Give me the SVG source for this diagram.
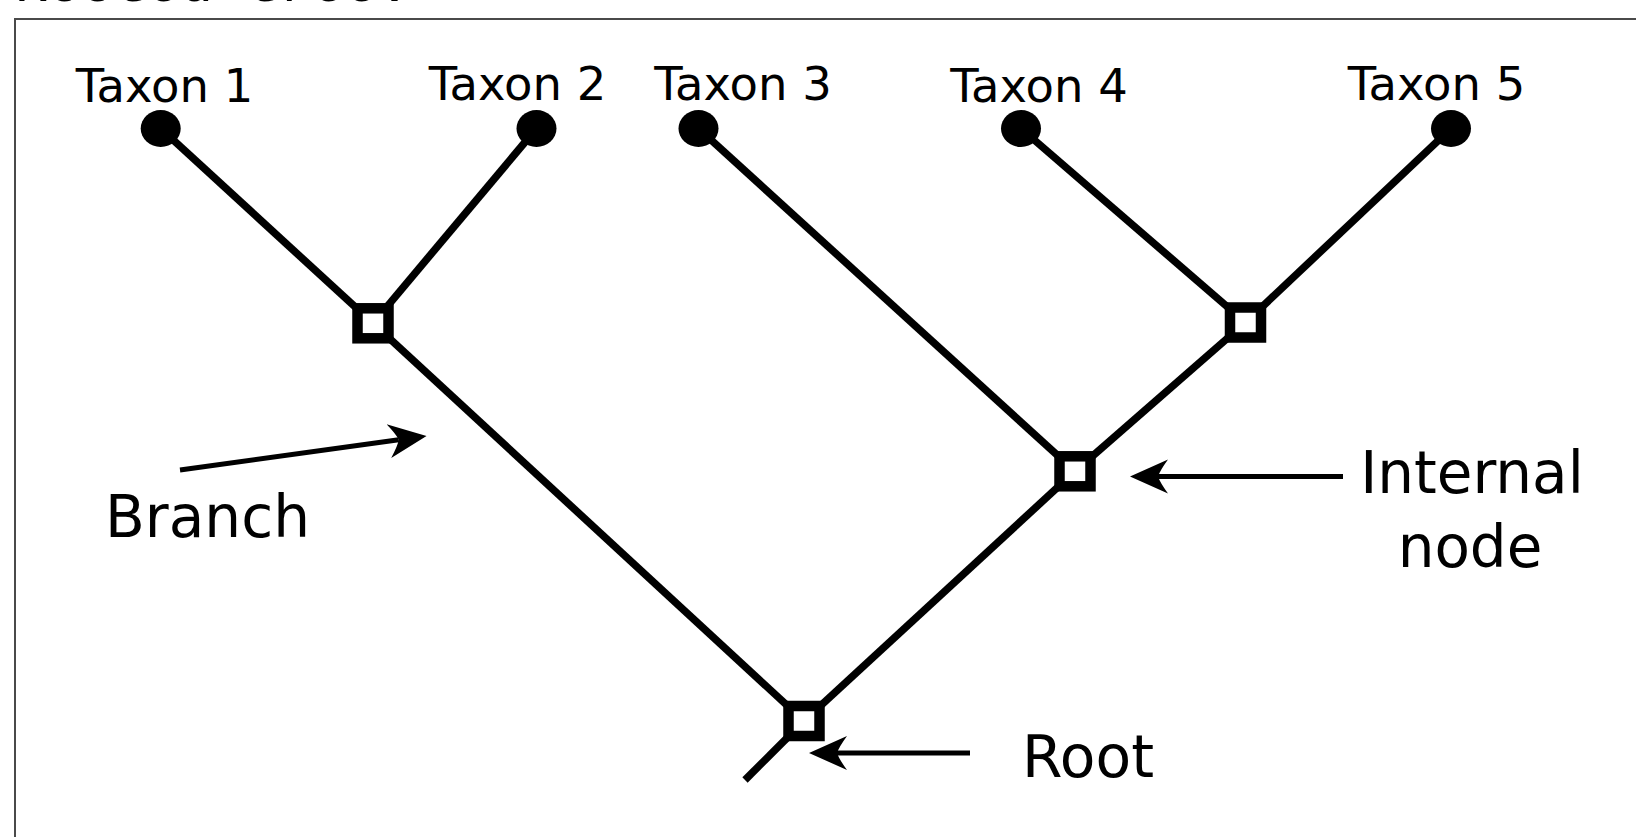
<svg xmlns="http://www.w3.org/2000/svg" width="1636" height="837" viewBox="0 0 1636 837">
  <style>
    .edge { stroke: #000; stroke-width: 7.5; fill: none; stroke-linecap: butt; }
    .pointer { stroke: #000; stroke-width: 5; fill: none; }
    .leaf { fill: #000; }
    .inner { fill: #fff; stroke: #000; stroke-width: 10.5; }
    .label { font-family: "DejaVu Sans", "Bitstream Vera Sans", sans-serif; fill: #000; }
    .taxon { font-size: 46.5px; text-anchor: middle; }
    .big { font-size: 58px; }
    .title { font-family: "Liberation Mono", "Courier New", monospace; font-size: 55px; fill: #000; }
  </style>
  <defs>
    <marker id="head" markerUnits="userSpaceOnUse" viewBox="0 -18 40 36" markerWidth="40" markerHeight="36" refX="10" refY="0" orient="auto">
      <path d="M0,-17 L38,0 L0,17 Q8,6 10,0 Q8,-6 0,-17 Z" fill="#000"/>
    </marker>
  </defs>

  <rect width="1636" height="837" fill="#fff"/>
  <text class="title" x="15" y="1">Rooted tree:</text>
  <rect x="15" y="19" width="1700" height="900" fill="#fff" stroke="#4a4a4a" stroke-width="2"/>

  <!-- tree branches -->
  <g id="connectors">
    <line class="edge" x1="160.7" y1="128.5" x2="373" y2="323.3"/>
    <line class="edge" x1="536.5" y1="128.5" x2="373" y2="323.3"/>
    <line class="edge" x1="373" y1="323.3" x2="804" y2="721"/>
    <line class="edge" x1="698.5" y1="128.5" x2="1075" y2="471.3"/>
    <line class="edge" x1="1021" y1="128.5" x2="1245.5" y2="322.5"/>
    <line class="edge" x1="1451" y1="128.5" x2="1245.5" y2="322.5"/>
    <line class="edge" x1="1245.5" y1="322.5" x2="1075" y2="471.3"/>
    <line class="edge" x1="1075" y1="471.3" x2="804" y2="721"/>
    <line class="edge" x1="804" y1="721" x2="745" y2="780"/>
    <!-- annotation arrows -->
    <line class="pointer" x1="180" y1="470" x2="398.8" y2="439.8" marker-end="url(#head)"/>
    <line class="pointer" x1="1343" y1="476.5" x2="1158" y2="476.5" marker-end="url(#head)"/>
    <line class="pointer" x1="970" y1="753" x2="837" y2="753" marker-end="url(#head)"/>
  </g>

  <!-- leaves -->
  <g id="taxon1"><ellipse class="leaf" cx="160.7" cy="128.5" rx="20" ry="18.5"/><text class="label taxon" x="164.5" y="102">Taxon 1</text></g>
  <g id="taxon2"><ellipse class="leaf" cx="536.5" cy="128.5" rx="20" ry="18.5"/><text class="label taxon" x="517.5" y="100">Taxon 2</text></g>
  <g id="taxon3"><ellipse class="leaf" cx="698.5" cy="128.5" rx="20" ry="18.5"/><text class="label taxon" x="743" y="100">Taxon 3</text></g>
  <g id="taxon4"><ellipse class="leaf" cx="1021" cy="128.5" rx="20" ry="18.5"/><text class="label taxon" x="1039" y="102">Taxon 4</text></g>
  <g id="taxon5"><ellipse class="leaf" cx="1451" cy="128.5" rx="20" ry="18.5"/><text class="label taxon" x="1436.5" y="100">Taxon 5</text></g>

  <!-- internal nodes -->
  <g id="node-a"><rect class="inner" x="357.5" y="308.3" width="31" height="30"/></g>
  <g id="node-b"><rect class="inner" x="1230" y="307.5" width="31" height="30"/></g>
  <g id="node-c"><rect class="inner" x="1059.5" y="456.3" width="31" height="30"/></g>
  <g id="node-root"><rect class="inner" x="788.5" y="706" width="31" height="30"/></g>

  <!-- annotations -->
  <g id="label-branch"><text class="label big" x="105" y="537" textLength="205" lengthAdjust="spacingAndGlyphs">Branch</text></g>
  <g id="label-internal">
    <text class="label big" x="1472" y="492.7" text-anchor="middle">Internal</text>
    <text class="label big" x="1470" y="566.7" text-anchor="middle">node</text>
  </g>
  <g id="label-root"><text class="label big" x="1022" y="776.7" textLength="132" lengthAdjust="spacingAndGlyphs">Root</text></g>
</svg>
